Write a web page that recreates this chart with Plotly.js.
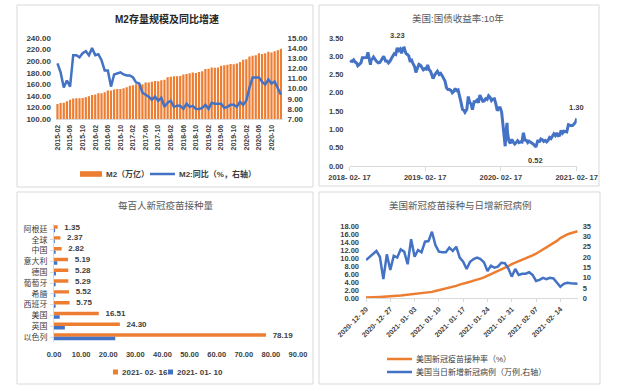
<!DOCTYPE html>
<html><head><meta charset="utf-8">
<script src="https://cdn.plot.ly/plotly-3.0.1.min.js"></script>
<style>html,body{margin:0;padding:0;background:#fff;}#c{width:625px;height:391px;}</style>
</head><body><div id="c"></div>
<script>
// ---------- Panel 1: M2 ----------
const m2Months = ["2015-02","2015-03","2015-04","2015-05","2015-06","2015-07","2015-08","2015-09","2015-10","2015-11","2015-12",
"2016-01","2016-02","2016-03","2016-04","2016-05","2016-06","2016-07","2016-08","2016-09","2016-10","2016-11","2016-12",
"2017-01","2017-02","2017-03","2017-04","2017-05","2017-06","2017-07","2017-08","2017-09","2017-10","2017-11","2017-12",
"2018-01","2018-02","2018-03","2018-04","2018-05","2018-06","2018-07","2018-08","2018-09","2018-10","2018-11","2018-12",
"2019-01","2019-02","2019-03","2019-04","2019-05","2019-06","2019-07","2019-08","2019-09","2019-10","2019-11","2019-12",
"2020-01","2020-02","2020-03","2020-04","2020-05","2020-06","2020-07","2020-08","2020-09","2020-10","2020-11","2020-12",
"2021-01"];
const m2Stock = [125.74,127.53,128.08,130.78,133.34,135.31,135.70,135.98,136.10,137.40,139.23,
141.63,142.46,144.62,144.52,146.17,149.05,149.16,151.10,151.64,151.95,153.04,155.01,
157.59,158.29,159.96,160.14,160.17,163.13,162.90,164.52,165.57,165.34,167.00,167.68,
172.08,172.91,173.99,173.77,174.31,177.02,177.62,178.87,180.17,179.56,181.32,182.67,
186.59,186.74,188.94,188.45,189.11,192.14,192.85,193.55,195.23,194.56,196.14,198.65,
202.31,203.08,208.09,209.35,210.02,213.49,212.55,213.68,216.41,214.97,217.20,218.68,
221.30];
const m2Yoy = [12.5,11.6,10.1,10.8,10.2,13.3,13.3,13.1,13.5,13.7,13.3,
14.0,13.3,13.4,12.8,11.8,11.8,10.2,11.4,11.5,11.6,11.4,11.3,
11.3,11.1,10.6,10.5,9.6,9.4,9.2,8.9,9.2,8.8,9.1,8.2,
8.6,8.8,8.2,8.3,8.3,8.0,8.5,8.2,8.3,8.0,8.0,8.1,
8.4,8.0,8.6,8.5,8.5,8.5,8.1,8.2,8.4,8.4,8.2,8.7,
8.4,8.8,10.1,11.1,11.1,11.1,10.7,10.4,10.9,10.5,10.7,10.1,
9.4];
const m2TickLabels = m2Months.filter((m,i)=>i%4===0);
const m2Names = ["M2（万亿）","M2:同比（%，右轴）"];

// ---------- Panel 2: US 10Y ----------
const ustDates = ["2018-02-20","2018-02-23","2018-03-02","2018-03-09","2018-03-16","2018-03-23","2018-03-29","2018-04-06","2018-04-13","2018-04-20","2018-04-27",
"2018-05-04","2018-05-11","2018-05-17","2018-05-25","2018-05-29","2018-06-01","2018-06-08","2018-06-13","2018-06-22","2018-06-29",
"2018-07-06","2018-07-13","2018-07-20","2018-07-27","2018-08-01","2018-08-10","2018-08-17","2018-08-24","2018-08-31",
"2018-09-07","2018-09-14","2018-09-21","2018-09-28","2018-10-05","2018-10-12","2018-10-19","2018-10-26","2018-11-02","2018-11-08",
"2018-11-16","2018-11-23","2018-11-30","2018-12-07","2018-12-14","2018-12-21","2018-12-28",
"2019-01-03","2019-01-11","2019-01-18","2019-01-25","2019-02-01","2019-02-08","2019-02-15","2019-02-22","2019-03-01","2019-03-08",
"2019-03-15","2019-03-22","2019-03-27","2019-04-05","2019-04-12","2019-04-17","2019-04-26","2019-05-03","2019-05-10","2019-05-17",
"2019-05-24","2019-05-31","2019-06-07","2019-06-14","2019-06-21","2019-06-28","2019-07-05","2019-07-12","2019-07-19","2019-07-26",
"2019-08-02","2019-08-09","2019-08-16","2019-08-23","2019-08-28","2019-09-06","2019-09-13","2019-09-20","2019-09-27","2019-10-03",
"2019-10-11","2019-10-18","2019-10-25","2019-11-01","2019-11-08","2019-11-15","2019-11-22","2019-11-29","2019-12-06","2019-12-13",
"2019-12-20","2019-12-27","2020-01-03","2020-01-10","2020-01-17","2020-01-24","2020-01-31","2020-02-07","2020-02-14","2020-02-21",
"2020-02-28","2020-03-06","2020-03-09","2020-03-13","2020-03-18","2020-03-20","2020-03-27","2020-04-03","2020-04-10","2020-04-17",
"2020-04-24","2020-05-01","2020-05-08","2020-05-15","2020-05-22","2020-05-29","2020-06-05","2020-06-12","2020-06-19","2020-06-26",
"2020-07-02","2020-07-10","2020-07-17","2020-07-24","2020-07-31","2020-08-04","2020-08-07","2020-08-14","2020-08-21","2020-08-28",
"2020-09-04","2020-09-11","2020-09-18","2020-09-25","2020-10-02","2020-10-09","2020-10-16","2020-10-23","2020-10-30","2020-11-06",
"2020-11-13","2020-11-20","2020-11-27","2020-12-04","2020-12-11","2020-12-18","2020-12-24","2020-12-31","2021-01-08","2021-01-15",
"2021-01-22","2021-01-29","2021-02-05","2021-02-12","2021-02-17"];
const ustYield = [2.89,2.87,2.86,2.90,2.84,2.82,2.74,2.77,2.82,2.96,2.96,
2.95,2.97,3.11,2.93,2.77,2.90,2.93,2.98,2.89,2.85,
2.82,2.83,2.89,2.96,3.00,2.87,2.87,2.82,2.86,
2.94,2.99,3.07,3.05,3.23,3.16,3.20,3.08,3.22,3.23,
3.08,3.05,3.01,2.85,2.89,2.79,2.72,
2.56,2.70,2.78,2.76,2.69,2.63,2.66,2.65,2.76,2.63,
2.59,2.44,2.39,2.50,2.56,2.59,2.50,2.53,2.47,2.39,
2.32,2.14,2.09,2.09,2.07,2.00,2.04,2.12,2.06,2.08,
1.86,1.74,1.55,1.52,1.47,1.55,1.90,1.74,1.69,1.54,
1.76,1.76,1.80,1.73,1.94,1.84,1.77,1.78,1.84,1.82,
1.92,1.88,1.79,1.83,1.84,1.70,1.51,1.59,1.59,1.47,
1.13,0.71,0.54,0.94,1.18,0.92,0.68,0.62,0.73,0.65,
0.60,0.64,0.69,0.64,0.66,0.65,0.91,0.71,0.70,0.64,
0.68,0.65,0.63,0.59,0.55,0.52,0.57,0.71,0.65,0.74,
0.72,0.67,0.70,0.66,0.70,0.78,0.75,0.84,0.88,0.83,
0.90,0.83,0.84,0.97,0.90,0.95,0.94,0.93,1.13,1.11,
1.10,1.11,1.17,1.20,1.30];
const ustTicks = ["2018-02-17","2019-02-17","2020-02-17","2021-02-17"];
const ustTickText = ["2018- 02- 17","2019- 02- 17","2020- 02- 17","2021- 02- 17"];
const ustMarks = [{d:"2018-10-05",v:3.23,dy:12},{d:"2020-08-04",v:0.52,dy:-14},{d:"2021-02-17",v:1.30,dy:11}];

// ---------- Panel 3: vaccinations per hundred ----------
const vacCountries = ["阿根廷","全球","中国","意大利","德国","葡萄牙","希腊","西班牙","美国","英国","以色列"];
const vacFeb16 = [1.35,2.37,2.82,5.19,5.28,5.29,5.52,5.75,16.51,24.30,78.19];
const vacJan10 = [0.4,0.3,0.6,1.2,0.7,0.6,0.5,0.6,2.1,4.0,22.6];
const vacSeriesNames = ["2021- 02- 16","2021- 01- 10"];

// ---------- Panel 4: US vaccination rate & daily cases ----------
const usDates = ["2020-12-20","2020-12-21","2020-12-22","2020-12-23","2020-12-24","2020-12-25","2020-12-26","2020-12-27","2020-12-28","2020-12-29","2020-12-30","2020-12-31",
"2021-01-01","2021-01-02","2021-01-03","2021-01-04","2021-01-05","2021-01-06","2021-01-07","2021-01-08","2021-01-09","2021-01-10","2021-01-11","2021-01-12","2021-01-13","2021-01-14","2021-01-15","2021-01-16",
"2021-01-17","2021-01-18","2021-01-19","2021-01-20","2021-01-21","2021-01-22","2021-01-23","2021-01-24","2021-01-25","2021-01-26","2021-01-27","2021-01-28","2021-01-29","2021-01-30","2021-01-31",
"2021-02-01","2021-02-02","2021-02-03","2021-02-04","2021-02-05","2021-02-06","2021-02-07","2021-02-08","2021-02-09","2021-02-10","2021-02-11","2021-02-12","2021-02-13","2021-02-14",
"2021-02-15","2021-02-16","2021-02-17","2021-02-18","2021-02-19"];
const usVacRate = [0.2,0.2,0.25,0.3,0.35,0.4,0.5,0.55,0.6,0.65,0.7,0.8,0.85,1.0,1.05,1.1,1.2,1.3,1.4,1.6,1.8,2.0,2.3,2.5,2.7,2.9,3.1,3.4,3.6,3.8,4.1,4.4,4.6,4.9,5.2,5.6,6.0,6.4,6.7,7.1,7.5,8.0,8.5,8.9,9.3,9.6,10.0,10.4,10.7,11.1,11.6,12.1,12.6,13.2,13.7,14.3,15.0,15.5,15.9,16.2,16.5,16.7];
const usNewCases = [18.5,20.1,21.3,22.9,20.1,9.3,21.3,13.7,20.6,19.7,23.7,22.6,16.5,28.6,20.1,23.4,22.3,27.4,27.7,32.2,25.8,22.6,22.3,22.3,24.5,22.9,25.0,19.7,17.7,14.2,17.7,19.0,19.7,19.0,17.4,13.2,15.8,14.8,15.3,17.2,17.0,14.5,10.5,14.2,11.3,11.9,11.9,12.6,11.3,8.4,8.9,9.9,9.3,9.9,9.6,7.3,5.6,7.0,7.5,7.3,7.0,7.0];
const usTicks = ["2020-12-20","2020-12-27","2021-01-03","2021-01-10","2021-01-17","2021-01-24","2021-01-31","2021-02-07","2021-02-14"];
const usTickText = ["2020- 12- 20","2020- 12- 27","2021- 01- 03","2021- 01- 10","2021- 01- 17","2021- 01- 24","2021- 01- 31","2021- 02- 07","2021- 02- 14"];
const usNames = ["美国新冠疫苗接种率（%）","美国当日新增新冠病例（万例,右轴）"];

// ---------- helpers ----------
const W = 625, H = 391;
const X = p => p / W;
const Y = p => 1 - p / H;
const ORANGE = "#ED7D31", BLUE = "#4472C4";
const FONT = "Liberation Sans, Arial, Noto Sans CJK SC, sans-serif";
const tickF = (s) => ({family: FONT, size: s || 7.5, color: "#404040", weight: "bold"});

const traces = [
  {type: "bar", x: m2Months, y: m2Stock, xaxis: "x", yaxis: "y", marker: {color: ORANGE}, width: 0.7, name: m2Names[0]},
  {type: "scatter", mode: "lines", x: m2Months, y: m2Yoy, xaxis: "x", yaxis: "y2", name: m2Names[1],
   line: {color: BLUE, width: 2.5}},

  {type: "scatter", mode: "lines", x: ustDates, y: ustYield, xaxis: "x2", yaxis: "y3",
   line: {color: BLUE, width: 3}},

  {type: "bar", orientation: "h", x: vacFeb16, y: vacCountries, xaxis: "x3", yaxis: "y4", name: vacSeriesNames[0],
   marker: {color: ORANGE}, width: 0.32, offset: -0.34, text: vacFeb16.map(v => v.toFixed(2)),
   texttemplate: "   %{text}", textposition: "outside", cliponaxis: false, constraintext: "none",
   textfont: {family: FONT, size: 8, color: "#404040", weight: "bold"}},
  {type: "bar", orientation: "h", x: vacJan10, y: vacCountries, xaxis: "x3", yaxis: "y4", name: vacSeriesNames[1],
   marker: {color: BLUE}, width: 0.32, offset: -0.02},

  {type: "scatter", mode: "lines", x: usDates, y: usVacRate, xaxis: "x4", yaxis: "y5", name: usNames[0],
   line: {color: ORANGE, width: 2.5}},
  {type: "scatter", mode: "lines", x: usDates, y: usNewCases, xaxis: "x4", yaxis: "y6", name: usNames[1],
   line: {color: BLUE, width: 2.5}}
];

const noGrid = {showgrid: false, zeroline: false, automargin: false, fixedrange: true};

// legend keys (layout decoration): [x0, x1, y, kind, colour, label]
const legendKeys = [
  [80, 102, 174, "bar", ORANGE, m2Names[0], true],
  [150, 175, 174, "line", BLUE, m2Names[1], true],
  [113, 118, 372, "sq", ORANGE, vacSeriesNames[0], true],
  [168, 173, 372, "sq", BLUE, vacSeriesNames[1], true],
  [387, 412, 359, "line", ORANGE, usNames[0], false],
  [387, 412, 372, "line", BLUE, usNames[1], false]
];

const panelBoxes = [[17, 5, 313, 187], [319, 5, 599, 186], [17, 192, 313, 384], [319, 192, 600, 384]];

const shapes = panelBoxes.map(b => ({type: "rect", xref: "paper", yref: "paper", x0: X(b[0]), x1: X(b[2]), y0: Y(b[3]), y1: Y(b[1]),
      line: {color: "#D9D9D9", width: 1}, fillcolor: "rgba(0,0,0,0)", layer: "below"}))
  .concat(legendKeys.map(k => {
    if (k[3] === "line") return {type: "line", xref: "paper", yref: "paper", x0: X(k[0]), x1: X(k[1]), y0: Y(k[2]), y1: Y(k[2]),
      line: {color: k[4], width: 2.5}};
    const h = k[3] === "bar" ? 2.8 : 2.5;
    return {type: "rect", xref: "paper", yref: "paper", x0: X(k[0]), x1: X(k[1]), y0: Y(k[2] + h), y1: Y(k[2] - h),
      line: {width: 0}, fillcolor: k[4]};
  }));

const annotations = [
    {text: "M2存量规模及同比增速", x: X(167), y: Y(19), font: {family: FONT, size: 10, color: "#262626", weight: "bold"}},
    {text: "美国:国债收益率:10年", x: X(458), y: Y(19), font: {family: FONT, size: 9.5, color: "#595959"}},
    {text: "每百人新冠疫苗接种量", x: X(166), y: Y(205), font: {family: FONT, size: 9.5, color: "#595959"}},
    {text: "美国新冠疫苗接种与日增新冠病例", x: X(460), y: Y(206), font: {family: FONT, size: 9.5, color: "#595959"}}
  ].map(a => Object.assign({xref: "paper", yref: "paper", showarrow: false, xanchor: "center", yanchor: "middle"}, a))
  .concat(legendKeys.map(k => ({xref: "paper", yref: "paper", showarrow: false, xanchor: "left", yanchor: "middle",
    x: X(k[1] + 2), y: Y(k[2]), text: k[5], font: {family: FONT, size: 8, color: "#404040", weight: k[6] ? "bold" : "normal"}})))
  .concat(ustMarks.map(m => ({xref: "x2", yref: "y3", x: m.d, y: m.v, text: m.v.toFixed(2), showarrow: false,
    yshift: m.dy, font: {family: FONT, size: 7.5, color: "#404040", weight: "bold"}})));

const layout = {
  width: W, height: H, margin: {l: 0, r: 0, t: 0, b: 0}, paper_bgcolor: "#fff", plot_bgcolor: "rgba(0,0,0,0)",
  font: {family: FONT, color: "#404040"}, showlegend: false,
  barmode: "group",
  // panel 1
  xaxis: Object.assign({}, noGrid, {domain: [X(55.9), X(282.5)], anchor: "y", type: "category",
    tickmode: "array", tickvals: m2TickLabels, ticktext: m2TickLabels, tickangle: -90,
    tickfont: tickF(7), showline: true, linecolor: "#D9D9D9", ticks: "", ticklabelstandoff: 2}),
  yaxis: Object.assign({}, noGrid, {domain: [Y(119), Y(38)], anchor: "x", range: [100, 240], dtick: 20,
    tickformat: ".2f", tickfont: tickF(8), ticks: "", ticklabelstandoff: 4}),
  yaxis2: Object.assign({}, noGrid, {overlaying: "y", anchor: "x", side: "right", range: [7, 15], dtick: 1,
    tickformat: ".2f", tickfont: tickF(8), ticks: "", ticklabelstandoff: 4}),
  // panel 2
  xaxis2: Object.assign({}, noGrid, {domain: [X(349.5), X(576.7)], anchor: "y3", type: "date",
    range: ["2018-02-17", "2021-02-17"], tickmode: "array", tickvals: ustTicks, ticktext: ustTickText,
    tickfont: tickF(7.5), showline: true, linecolor: "#D9D9D9", ticks: "outside", ticklen: 4, tickcolor: "#D9D9D9"}),
  yaxis3: Object.assign({}, noGrid, {domain: [Y(166), Y(38)], anchor: "x2", range: [0, 3.5], dtick: 0.5,
    tickformat: ".2f", tickfont: tickF(7.5), ticks: "", ticklabelstandoff: 5}),
  // panel 3
  xaxis3: Object.assign({}, noGrid, {domain: [X(54), X(298)], anchor: "y4", range: [0, 90], dtick: 10,
    tickformat: ".2f", tickfont: tickF(7.5), ticks: "", ticklabelstandoff: 6}),
  yaxis4: Object.assign({}, noGrid, {domain: [Y(342.4), Y(223.6)], anchor: "x3", type: "category",
    autorange: "reversed", tickfont: {family: FONT, size: 8, color: "#404040"}, showline: true, linecolor: "#D9D9D9",
    ticks: "outside", ticklen: 3, tickcolor: "#D9D9D9", ticklabelstandoff: 1}),
  // panel 4
  xaxis4: Object.assign({}, noGrid, {domain: [X(366), X(577.7)], anchor: "y5", type: "date",
    range: ["2020-12-20", "2021-02-19"], tickmode: "array", tickvals: usTicks, ticktext: usTickText, tickangle: -45,
    tickfont: tickF(7), showline: true, linecolor: "#D9D9D9", ticks: "outside", ticklen: 3, tickcolor: "#D9D9D9"}),
  yaxis5: Object.assign({}, noGrid, {domain: [Y(298.3), Y(226)], anchor: "x4", range: [0, 18], dtick: 2,
    tickformat: ".2f", tickfont: tickF(7.5), ticks: "", ticklabelstandoff: 6}),
  yaxis6: Object.assign({}, noGrid, {overlaying: "y5", anchor: "x4", side: "right", range: [0, 35], dtick: 5,
    tickfont: tickF(7.5), ticks: "", ticklabelstandoff: 4}),
  shapes: shapes,
  annotations: annotations
};

Plotly.newPlot("c", traces, layout, {staticPlot: true, displayModeBar: false});
</script>
</body></html>
